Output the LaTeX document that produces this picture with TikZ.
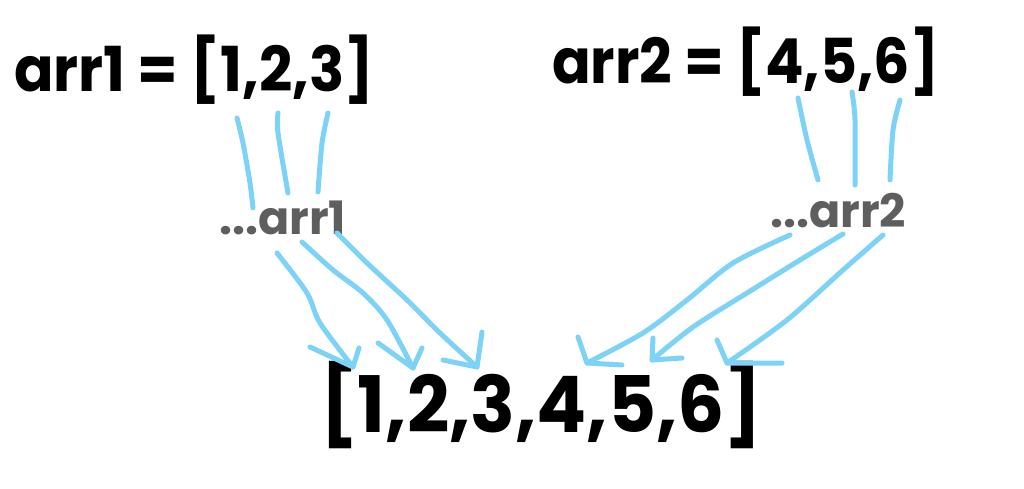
\documentclass[tikz,border=0pt]{standalone}
\usepackage{fontspec}
\setmainfont{Poppins}
\begin{document}
\begin{tikzpicture}[x=1pt,y=-1pt,
  sk/.style={draw=skyblue,line width=5pt,line cap=round,line join=round},
  big/.style={inner sep=0pt,anchor=base west,font=\fontsize{62}{62}\selectfont\bfseries},
  spr/.style={inner sep=0pt,anchor=base west,text=spgray,font=\fontsize{46}{46}\selectfont\bfseries},
  res/.style={inner sep=0pt,anchor=base west,font=\fontsize{78}{78}\selectfont\bfseries}]
\definecolor{skyblue}{HTML}{7DD3F7}
\definecolor{spgray}{HTML}{5E5E5E}
\useasboundingbox[fill=white] (0,0) rectangle (1024,489);
% texts
\node[big] (a1) at (14,92) {\scalebox{0.94}[1]{arr1 = [1,2,3]}};
\node[big] (a2) at (552,84) {\scalebox{0.92}[1]{arr2 = [4,5,6]}};
\node[spr] (s1) at (219,234) {...arr1};
\node[spr] (s2) at (770,227) {...arr2};
\node[res] (r) at (320,432) {\scalebox{0.95}[1]{[1,2,3,4,5,6]}};
% upper strokes left
\draw[sk] plot[smooth] coordinates {(237,118) (243,143) (250,183) (253,208)};
\draw[sk] plot[smooth] coordinates {(278,113) (278,133) (288,193)};
\draw[sk] plot[smooth] coordinates {(328,113) (322,143) (318,192)};
% upper strokes right
\draw[sk] plot[smooth] coordinates {(798,98) (807,140) (818,180)};
\draw[sk] plot[smooth] coordinates {(852,92) (855,120) (855,185)};
\draw[sk] plot[smooth] coordinates {(900,100) (893,130) (890,180)};
% lower arrows left
\draw[sk] plot[smooth] coordinates {(277,253) (307,293) (320,323) (353,367)};
\draw[sk] (310,347) -- (353,367) -- (359,348);
\draw[sk] plot[smooth] coordinates {(302,242) (333,270) (363,293) (387,320) (413,368)};
\draw[sk] (378,343) -- (413,368) -- (422,348);
\draw[sk] plot[smooth] coordinates {(337,233) (367,263) (407,300) (440,333) (477,367)};
\draw[sk] (443,360) -- (477,367) -- (482,332);
% lower arrows right
\draw[sk] plot[smooth] coordinates {(790,235) (733,263) (687,300) (643,333) (587,363)};
\draw[sk] (578,337) -- (587,363) -- (622,365);
\draw[sk] plot[smooth] coordinates {(843,234) (800,260) (747,293) (693,327) (652,360)};
\draw[sk] (653,338) -- (652,360) -- (682,358);
\draw[sk] plot[smooth] coordinates {(883,235) (843,270) (787,320) (727,363)};
\draw[sk] (717,340) -- (727,363) -- (782,363);
\end{tikzpicture}
\end{document}
